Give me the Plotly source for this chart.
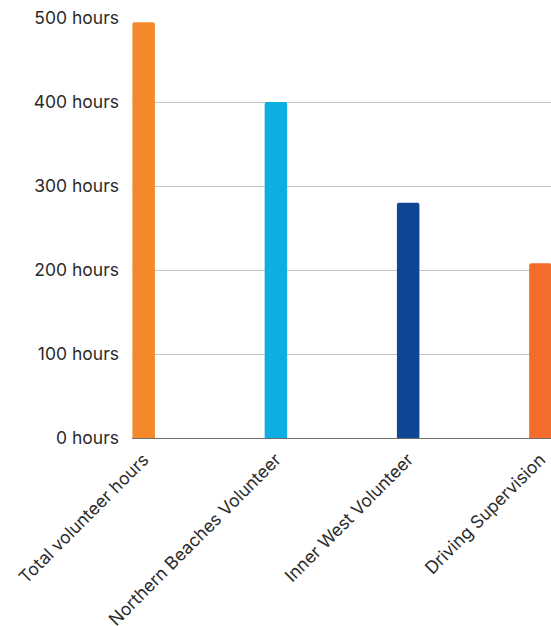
import plotly.graph_objects as go

# Volunteer hours by program
categories = ["Total volunteer hours", "Northern Beaches Volunteer",
              "Inner West Volunteer", "Driving Supervision"]
hours = [495, 400, 280, 208]
bar_colors = ["#F5882A", "#0EAEE2", "#0F4592", "#F36C2C"]
tick_values = [0, 100, 200, 300, 400, 500]
tick_labels = [f"{v} hours" for v in tick_values]

fig = go.Figure(
    go.Bar(
        x=list(range(len(categories))),
        y=hours,
        marker=dict(color=bar_colors, line=dict(width=0)),
        width=0.17,
        hoverinfo="skip",
    )
)

fig.update_layout(
    width=551,
    height=626,
    margin=dict(l=132, r=0, t=18, b=188),
    paper_bgcolor="white",
    plot_bgcolor="white",
    showlegend=False,
    barcornerradius=2,
    font=dict(family="Inter, Open Sans, sans-serif", size=17.5, color="#2b2b2b"),
    xaxis=dict(
        range=[-0.088, 3.08],
        tickmode="array",
        tickvals=list(range(len(categories))),
        ticktext=categories,
        tickangle=-45,
        showgrid=False,
        zeroline=False,
        showline=False,
        ticks="",
        ticklabelstandoff=7,
        automargin=False,
        fixedrange=True,
    ),
    yaxis=dict(
        range=[0, 500],
        tickmode="array",
        tickvals=tick_values,
        ticktext=tick_labels,
        showgrid=True,
        gridcolor="#c4c4c4",
        gridwidth=1,
        zeroline=True,
        zerolinecolor="#6e6e6e",
        zerolinewidth=1,
        showline=False,
        ticks="",
        ticklabelstandoff=12,
        automargin=False,
        fixedrange=True,
    ),
)

fig.write_html("out.html")
